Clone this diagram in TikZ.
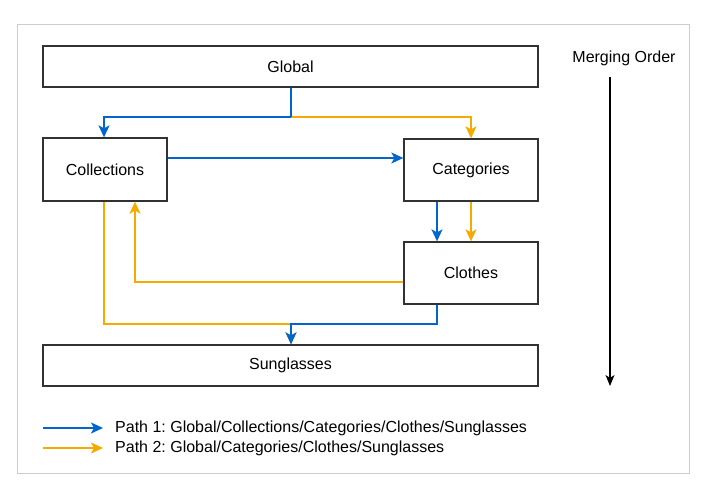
\documentclass[tikz,border=0pt]{standalone}
\usepackage{fontspec}
\setmainfont{Liberation Sans}
\usetikzlibrary{arrows.meta}
\definecolor{pblue}{RGB}{0,102,204}
\definecolor{porange}{RGB}{245,170,0}
\definecolor{boxline}{RGB}{50,50,50}
\definecolor{framegray}{RGB}{205,205,205}
\frenchspacing
\begin{document}
\begin{tikzpicture}[x=1pt,y=-1pt,
  box/.style={draw=boxline,line width=1.3pt,fill=white,inner sep=0pt,font=\fontsize{16}{19}\selectfont},
  conn/.style={line width=1.7pt,-{Stealth[length=12pt,width=11pt,inset=3pt]}},
  blueline/.style={conn,draw=pblue,color=pblue},
  orangeline/.style={conn,draw=porange,color=porange},
  lbl/.style={font=\fontsize{16}{19}\selectfont,inner sep=0pt}]
\useasboundingbox (0,0) rectangle (709,495);
\draw[framegray,line width=1pt] (17,25) rectangle (689,473);
% boxes
\node[box,minimum width=495pt,minimum height=41pt] (global) at (290.5,66.5) {Global};
\node[box,minimum width=124pt,minimum height=63pt] (coll) at (105,169.5) {Collections};
\node[box,minimum width=134pt,minimum height=62pt] (cat) at (471,170) {Categories};
\node[box,minimum width=134pt,minimum height=62pt] (clo) at (471,273) {Clothes};
\node[box,minimum width=495pt,minimum height=41pt] (sun) at (290.5,365.5) {Sunglasses};
% junction coordinates
\coordinate (gsplit) at (291,117);
\coordinate (sjoin) at (291,324);
% Path 2 (orange)
\draw[orangeline] (gsplit) -| (cat.north -| 471,0);
\draw[orangeline] (cat.south -| 471,0) -- (clo.north -| 471,0);
\draw[orangeline] (clo.west |- 0,282) -| (coll.south -| 135,0);
\draw[orangeline] (coll.south -| 104,0) |- (sjoin) -- (sun.north -| 291,0);
% Path 1 (blue)
\draw[blueline,-] (global.south -| 291,0) -- (gsplit);
\draw[blueline] (gsplit) -| (coll.north -| 104,0);
\draw[blueline] (coll.east |- 0,158) -- (cat.west |- 0,158);
\draw[blueline] (cat.south -| 437,0) -- (clo.north -| 437,0);
\draw[blueline] (clo.south -| 437,0) |- (sjoin) -- (sun.north -| 291,0);
% merging order
\node[lbl] (mo) at (624,58) {Merging Order};
\coordinate (mostart) at (610,77);
\coordinate (moend) at (610,386);
\draw[line width=1.3pt,-{Stealth[length=11pt,width=9pt,inset=3pt]}] (mostart) -- (moend);
% legend
\coordinate (l1a) at (43,428);
\coordinate (l1b) at (103,428);
\coordinate (l2a) at (43,448);
\coordinate (l2b) at (103,448);
\draw[blueline] (l1a) -- (l1b);
\draw[orangeline] (l2a) -- (l2b);
\node[lbl,anchor=west] (leg1) at (115,428) {Path 1: Global/Collections/Categories/Clothes/Sunglasses};
\node[lbl,anchor=west] (leg2) at (115,448) {Path 2: Global/Categories/Clothes/Sunglasses};
\end{tikzpicture}
\end{document}
